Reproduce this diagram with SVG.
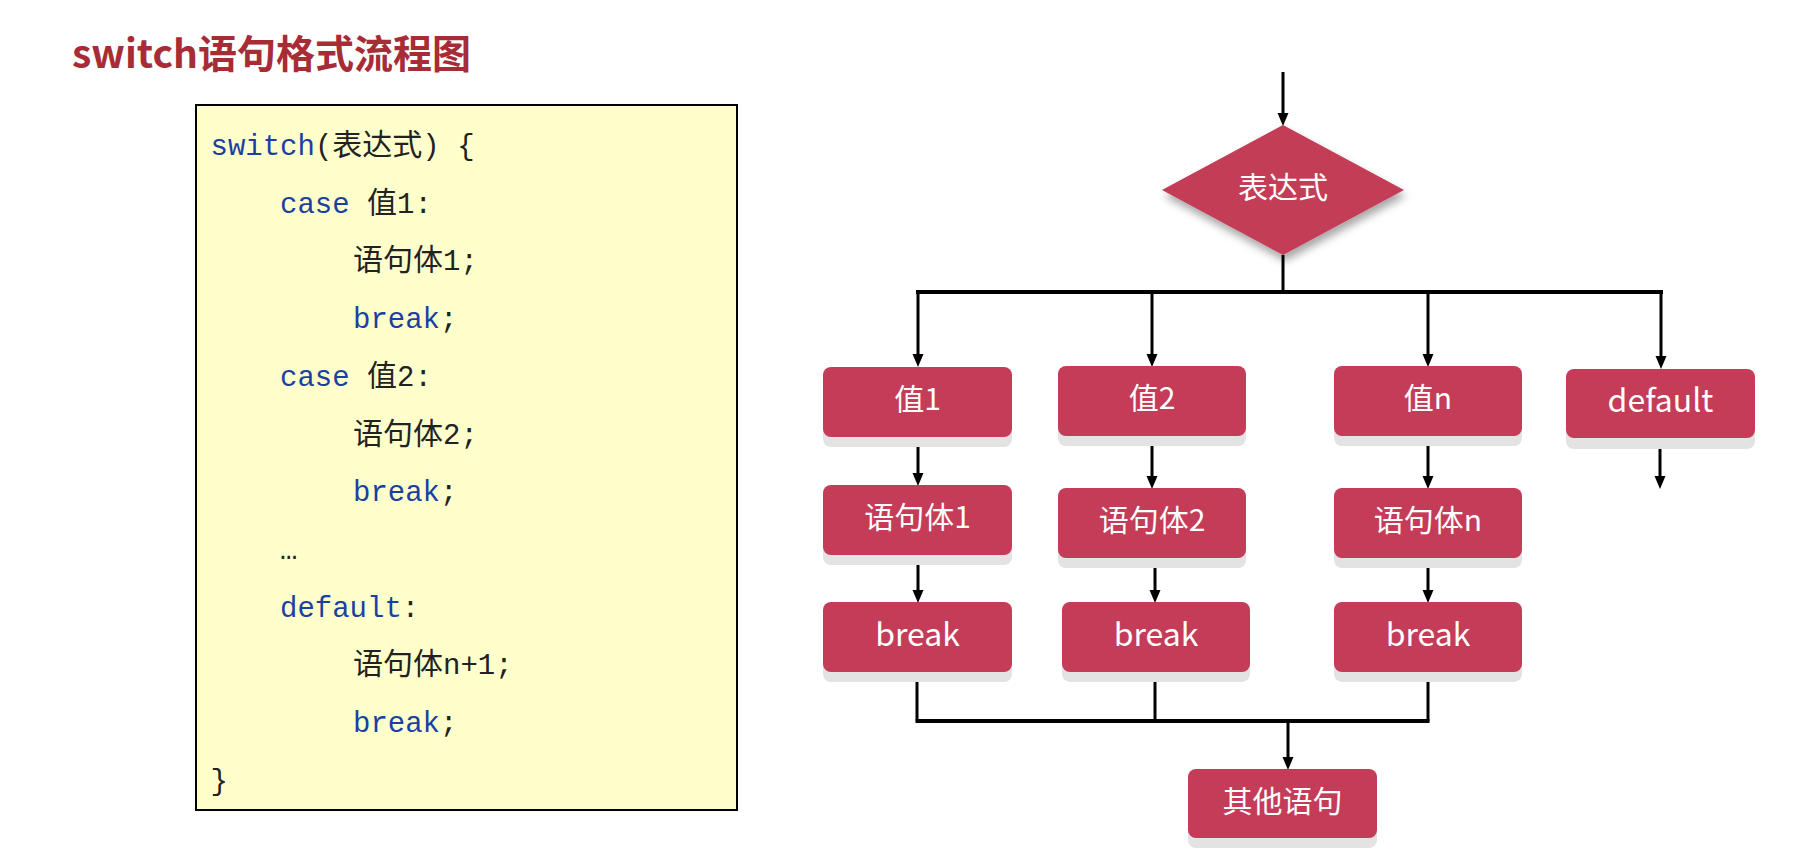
<svg xmlns="http://www.w3.org/2000/svg" width="1796" height="866" viewBox="0 0 1796 866">
<style>
  .title { font-family: "Noto Sans CJK SC", "Noto Sans", sans-serif; font-weight: bold; font-size: 39px; fill: #a82c36; }
  .code { font-family: "Liberation Mono", "Noto Sans CJK SC", monospace; font-size: 29px; fill: #222222; }
  .kw { fill: #1b3fa2; }
  .cjk { font-family: "Noto Sans CJK SC", sans-serif; font-size: 30px; }
  .node rect.box, .node polygon.box { fill: #c43c57; }
  .node rect.sh { fill: #e3e3e3; }
  .node text { font-family: "Noto Sans CJK SC", "Noto Sans", sans-serif; font-size: 30px; fill: #ffffff; text-anchor: middle; dominant-baseline: central; }
  .node text.lat { font-size: 32px; }
  .conn line, .conn path { stroke: #000000; stroke-width: 3; fill: none; }
  .conn .bus { stroke-width: 4; }
  .conn .arr { marker-end: url(#ah); }
</style>
<defs>
  <marker id="ah" markerUnits="userSpaceOnUse" markerWidth="13" markerHeight="12" refX="6" refY="6" orient="auto">
    <path d="M0,0.5 L13,6 L0,11.5 z" fill="#000000"/>
  </marker>
  <filter id="dsh" x="-20%" y="-20%" width="140%" height="150%">
    <feDropShadow dx="2" dy="6" stdDeviation="4" flood-color="#000000" flood-opacity="0.35"/>
  </filter>
</defs>
<rect width="1796" height="866" fill="#ffffff"/>

<text class="title" x="72" y="68">switch语句格式流程图</text>

<g id="code">
  <rect x="196" y="105" width="541" height="705" fill="#ffffcc" stroke="#000000" stroke-width="2"/>
  <text class="code" x="210.5" y="155"><tspan class="kw">switch</tspan>(<tspan class="cjk">表达式</tspan>) {</text>
  <text class="code" x="280" y="212.7"><tspan class="kw">case</tspan> <tspan class="cjk">值</tspan>1:</text>
  <text class="code" x="353" y="270.4"><tspan class="cjk">语句体</tspan>1;</text>
  <text class="code" x="353" y="328.1"><tspan class="kw">break</tspan>;</text>
  <text class="code" x="280" y="385.8"><tspan class="kw">case</tspan> <tspan class="cjk">值</tspan>2:</text>
  <text class="code" x="353" y="443.5"><tspan class="cjk">语句体</tspan>2;</text>
  <text class="code" x="353" y="501.2"><tspan class="kw">break</tspan>;</text>
  <text class="code" x="280" y="558.9">…</text>
  <text class="code" x="280" y="616.6"><tspan class="kw">default</tspan>:</text>
  <text class="code" x="353" y="674.3"><tspan class="cjk">语句体</tspan>n+1;</text>
  <text class="code" x="353" y="732"><tspan class="kw">break</tspan>;</text>
  <text class="code" x="210.5" y="789.7">}</text>
</g>

<g class="conn" id="connectors">
  <line class="arr" x1="1283" y1="72" x2="1283" y2="119"/>
  <line x1="1283" y1="255" x2="1283" y2="292"/>
  <line class="bus" x1="916" y1="292" x2="1663" y2="292"/>
  <line class="arr" x1="918" y1="292" x2="918" y2="360"/>
  <line class="arr" x1="1152" y1="292" x2="1152" y2="360"/>
  <line class="arr" x1="1428" y1="292" x2="1428" y2="360"/>
  <line class="arr" x1="1661" y1="292" x2="1661" y2="362"/>
  <line class="arr" x1="918" y1="437" x2="918" y2="479"/>
  <line class="arr" x1="1152" y1="436" x2="1152" y2="482"/>
  <line class="arr" x1="1428" y1="436" x2="1428" y2="482"/>
  <line class="arr" x1="1660" y1="438" x2="1660" y2="482"/>
  <line class="arr" x1="918" y1="555" x2="918" y2="596"/>
  <line class="arr" x1="1155" y1="558" x2="1155" y2="596"/>
  <line class="arr" x1="1428" y1="558" x2="1428" y2="596"/>
  <line x1="917" y1="672" x2="917" y2="721"/>
  <line x1="1155" y1="672" x2="1155" y2="721"/>
  <line x1="1428" y1="672" x2="1428" y2="721"/>
  <line class="bus" x1="915.5" y1="721" x2="1429.5" y2="721"/>
  <line class="arr" x1="1288" y1="721" x2="1288" y2="763"/>
</g>

<g class="node" id="n-expr">
  <polygon class="box" points="1283,125 1404,190 1283,255 1162,190" filter="url(#dsh)"/>
  <text x="1283" y="185">表达式</text>
</g>

<g class="node" id="n-v1">
  <rect class="sh" x="823" y="377" width="189" height="70" rx="8"/>
  <rect class="box" x="823" y="367" width="189" height="70" rx="8"/>
  <text x="917.5" y="397">值1</text>
</g>
<g class="node" id="n-v2">
  <rect class="sh" x="1058" y="376" width="188" height="70" rx="8"/>
  <rect class="box" x="1058" y="366" width="188" height="70" rx="8"/>
  <text x="1152" y="396">值2</text>
</g>
<g class="node" id="n-vn">
  <rect class="sh" x="1334" y="376" width="188" height="70" rx="8"/>
  <rect class="box" x="1334" y="366" width="188" height="70" rx="8"/>
  <text x="1428" y="396">值n</text>
</g>
<g class="node" id="n-default">
  <rect class="sh" x="1566" y="379" width="189" height="70" rx="8"/>
  <rect class="box" x="1566" y="369" width="189" height="69" rx="8"/>
  <text class="lat" x="1660.5" y="398">default</text>
</g>

<g class="node" id="n-s1">
  <rect class="sh" x="823" y="495" width="189" height="70" rx="8"/>
  <rect class="box" x="823" y="485" width="189" height="70" rx="8"/>
  <text x="917.5" y="515">语句体1</text>
</g>
<g class="node" id="n-s2">
  <rect class="sh" x="1058" y="498" width="188" height="70" rx="8"/>
  <rect class="box" x="1058" y="488" width="188" height="70" rx="8"/>
  <text x="1152" y="518">语句体2</text>
</g>
<g class="node" id="n-sn">
  <rect class="sh" x="1334" y="498" width="188" height="70" rx="8"/>
  <rect class="box" x="1334" y="488" width="188" height="70" rx="8"/>
  <text x="1428" y="518">语句体n</text>
</g>

<g class="node" id="n-b1">
  <rect class="sh" x="823" y="612" width="189" height="70" rx="8"/>
  <rect class="box" x="823" y="602" width="189" height="70" rx="8"/>
  <text class="lat" x="917.5" y="632">break</text>
</g>
<g class="node" id="n-b2">
  <rect class="sh" x="1062" y="612" width="188" height="70" rx="8"/>
  <rect class="box" x="1062" y="602" width="188" height="70" rx="8"/>
  <text class="lat" x="1156" y="632">break</text>
</g>
<g class="node" id="n-bn">
  <rect class="sh" x="1334" y="612" width="188" height="70" rx="8"/>
  <rect class="box" x="1334" y="602" width="188" height="70" rx="8"/>
  <text class="lat" x="1428" y="632">break</text>
</g>

<g class="node" id="n-other">
  <rect class="sh" x="1188" y="779" width="189" height="69" rx="8"/>
  <rect class="box" x="1188" y="769" width="189" height="69" rx="8"/>
  <text x="1282.5" y="799">其他语句</text>
</g>
</svg>
